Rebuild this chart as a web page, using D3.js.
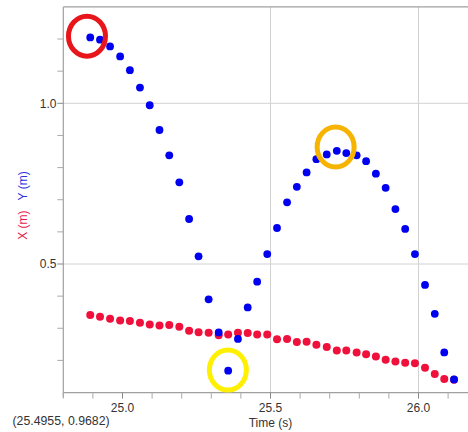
<!DOCTYPE html>
<html>
<head>
<meta charset="utf-8">
<script src="https://cdn.jsdelivr.net/npm/d3@7"></script>
<style>
html,body{margin:0;padding:0;background:#fff;}
svg{display:block;font-family:"Liberation Sans",Arial,sans-serif;}
</style>
</head>
<body>
<svg id="chart" width="468" height="432"></svg>
<script>
// Time stamps (s)
const times = [24.891,24.924,24.958,24.992,25.025,25.059,25.092,25.125,25.158,25.192,
  25.225,25.257,25.291,25.325,25.357,25.390,25.423,25.455,25.489,25.522,
  25.556,25.589,25.622,25.655,25.690,25.724,25.756,25.791,25.823,25.856,
  25.889,25.922,25.955,25.988,26.022,26.055,26.087,26.120];
// X position (m) - red
const xValues = [0.341,0.336,0.330,0.324,0.323,0.317,0.312,0.309,0.310,0.305,
  0.292,0.288,0.286,0.278,0.281,0.286,0.285,0.281,0.281,0.266,
  0.267,0.257,0.258,0.249,0.242,0.231,0.231,0.225,0.219,0.212,
  0.202,0.197,0.193,0.191,0.177,0.158,0.142,0.140];
// Y position (m) - blue
const yValues = [1.205,1.198,1.177,1.146,1.103,1.049,0.994,0.917,0.838,0.754,
  0.640,0.524,0.390,0.287,0.168,0.267,0.365,0.445,0.531,0.612,
  0.692,0.740,0.785,0.826,0.841,0.852,0.845,0.838,0.820,0.781,
  0.737,0.671,0.609,0.531,0.435,0.345,0.225,0.141];
// Axis ticks
const xMinorTicks = [24.8,24.9,25.0,25.1,25.2,25.3,25.4,25.5,25.6,25.7,25.8,25.9,26.0,26.1];
const xLabelTicks = [25.0,25.5,26.0];
const xGridTicks = [25.5,26.0];
const yMinorTicks = [0.2,0.3,0.4,0.5,0.6,0.7,0.8,0.9,1.0,1.1,1.2];
const yLabelTicks = [0.5,1.0];
// Annotation rings (time, value, colour)
const rings = [
  {t:24.880, v:1.209, color:"#e8161b"},
  {t:25.720, v:0.864, color:"#f6b400"},
  {t:25.356, v:0.170, color:"#fff000"}
];
const cursorText = "(25.4955, 0.9682)";

(function () {
const svg = d3.select("#chart");
const x = d3.scaleLinear().domain([25.0, 26.0]).range([122.5, 418.5]);
const y = d3.scaleLinear().domain([0.5, 1.0]).range([264, 103.3]);
const pLeft = x(24.8), pRight = 468, pTop = y(1.3), pBottom = y(0.1);

// gridlines
svg.append("g").selectAll("line").data(xGridTicks).join("line")
  .attr("x1", d => x(d)).attr("x2", d => x(d)).attr("y1", pTop).attr("y2", pBottom)
  .attr("stroke", "#d2d2d2").attr("stroke-width", 1);
svg.append("g").selectAll("line").data(yLabelTicks).join("line")
  .attr("x1", pLeft).attr("x2", pRight).attr("y1", d => y(d)).attr("y2", d => y(d))
  .attr("stroke", "#d2d2d2").attr("stroke-width", 1);

// frame
svg.append("line").attr("x1", pLeft).attr("x2", pRight).attr("y1", pTop).attr("y2", pTop)
  .attr("stroke", "#a0a0a0").attr("stroke-width", 1.2);
svg.append("line").attr("x1", pLeft).attr("x2", pLeft).attr("y1", pTop).attr("y2", pBottom + 5)
  .attr("stroke", "#a0a0a0").attr("stroke-width", 1.2);
svg.append("line").attr("x1", pLeft).attr("x2", pRight).attr("y1", pBottom).attr("y2", pBottom)
  .attr("stroke", "#a0a0a0").attr("stroke-width", 1.2);

// x ticks
svg.append("g").selectAll("line").data(xMinorTicks).join("line")
  .attr("x1", d => x(d)).attr("x2", d => x(d)).attr("y1", pBottom).attr("y2", pBottom + 6)
  .attr("stroke", d => xLabelTicks.includes(d) ? "#888" : "#aaa").attr("stroke-width", 1);
svg.append("g").selectAll("text").data(xLabelTicks).join("text")
  .attr("x", d => x(d)).attr("y", 411.5).attr("text-anchor", "middle")
  .attr("font-size", 12).attr("fill", "#333").text(d => d.toFixed(1));

// y ticks
svg.append("g").selectAll("line").data(yMinorTicks).join("line")
  .attr("x1", pLeft - 6).attr("x2", pLeft).attr("y1", d => y(d)).attr("y2", d => y(d))
  .attr("stroke", d => yLabelTicks.includes(d) ? "#888" : "#aaa").attr("stroke-width", 1);
svg.append("g").selectAll("text").data(yLabelTicks).join("text")
  .attr("x", 56.5).attr("y", d => y(d) + 4.3).attr("text-anchor", "end")
  .attr("font-size", 12).attr("fill", "#333").text(d => d.toFixed(1));

// axis titles
svg.append("text").attr("x", x(25.5)).attr("y", 427).attr("text-anchor", "middle")
  .attr("font-size", 12).attr("fill", "#333").text("Time (s)");
const yt = svg.append("text").attr("transform", "translate(26.5,205.5) rotate(-90)")
  .attr("text-anchor", "middle").attr("font-size", 12);
yt.append("tspan").attr("fill", "#e8164a").text("X (m)");
yt.append("tspan").attr("fill", "#2e2ee0").attr("dx", 10).text("Y (m)");

svg.append("text").attr("x", 12.5).attr("y", 424.5).attr("font-size", 12.3)
  .attr("fill", "#333").text(cursorText);

// data
svg.append("g").selectAll("circle").data(times).join("circle")
  .attr("cx", d => x(d)).attr("cy", (d, i) => y(xValues[i])).attr("r", 4)
  .attr("fill", "#f0103c");
svg.append("g").selectAll("circle").data(times).join("circle")
  .attr("cx", d => x(d)).attr("cy", (d, i) => y(yValues[i])).attr("r", 3.9)
  .attr("fill", "#0000f0");

// annotation rings
svg.append("g").selectAll("ellipse").data(rings).join("ellipse")
  .attr("cx", d => x(d.t)).attr("cy", d => y(d.v)).attr("rx", 18.5).attr("ry", 20)
  .attr("fill", "none").attr("stroke", d => d.color).attr("stroke-width", 5);
})();
</script>
</body>
</html>
